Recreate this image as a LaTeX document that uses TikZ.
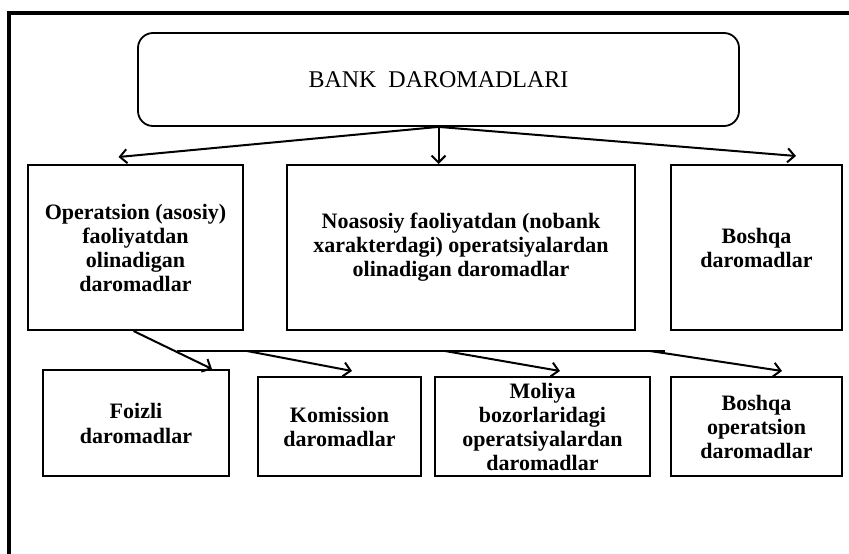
\documentclass[tikz,border=0pt]{standalone}
\usepackage{fontspec}
\setmainfont{Liberation Serif}
\usetikzlibrary{arrows.meta}

\tikzset{
  box/.style={draw, line width=2pt, inner sep=0pt, align=center,
    font=\bfseries\fontsize{22}{24}\selectfont},
  arr/.style={line width=2pt, -{Straight Barb[length=7pt,width=14pt,line width=2pt]}},
}

\begin{document}
\begin{tikzpicture}[x=1pt, y=-1pt]
            \useasboundingbox (0,0) rectangle (849,554);
            \draw[line width=3.5pt] (9,554) -- (9,13) -- (849,13);

            \node[box, rounded corners=15pt, line width=1.8pt, minimum width=601pt, minimum height=93pt,
              font=\fontsize{24}{26}\selectfont] (bank) at (438.5,79.5) {BANK\ \ DAROMADLARI};

            \node[box, minimum width=215pt, minimum height=165pt] (opA) at (135.5,247.5)
              {Operatsion (asosiy)\\faoliyatdan\\olinadigan\\daromadlar};
            \node[box, minimum width=348pt, minimum height=165pt] (nobank) at (461,247.5)
              {Noasosiy faoliyatdan (nobank\\xarakterdagi) operatsiyalardan\\olinadigan daromadlar};
            \node[box, minimum width=171pt, minimum height=165pt] (boshqa) at (756.5,247.5)
              {Boshqa\\daromadlar};

            \node[box, minimum width=186pt, minimum height=106pt,
              font=\bfseries\fontsize{22}{25}\selectfont] (foizli) at (136,423) {Foizli\\daromadlar};
            \node[box, minimum width=163pt, minimum height=99pt] (komis) at (339.5,426.5)
              {Komission\\daromadlar};
            \node[box, minimum width=215pt, minimum height=99pt] (moliya) at (542.5,426.5)
              {Moliya\\bozorlaridagi\\operatsiyalardan\\daromadlar};
            \node[box, minimum width=171pt, minimum height=99pt] (boshqaop) at (756.5,426.5)
              {Boshqa\\operatsion\\daromadlar};

            \draw[arr] (bank.south) -- ([xshift=-17pt,yshift=7pt]opA.north);
            \draw[arr] (bank.south) -- (bank.south |- nobank.north);
            \draw[arr] (bank.south) -- ([xshift=39.5pt,yshift=8pt]boshqa.north);

            \coordinate (busL) at (177,351);
            \coordinate (busR) at (665,351);
            \coordinate (b1) at (247,351);
            \coordinate (b2) at (445,351);
            \coordinate (b3) at (650,351);
            \draw[line width=2pt] (busL) -- (busR);
            \draw[arr] ([xshift=-2pt]opA.south) -- ([xshift=76pt]foizli.north);
            \draw[arr] (b1) -- ([xshift=12.5pt,yshift=5pt]komis.north);
            \draw[arr] (b2) -- ([xshift=17.5pt,yshift=5pt]moliya.north);
            \draw[arr] (b3) -- ([xshift=25.5pt,yshift=5pt]boshqaop.north);
        \end{tikzpicture}
\end{document}
